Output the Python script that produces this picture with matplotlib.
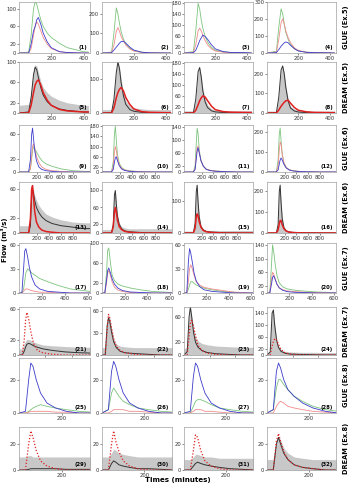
import matplotlib
matplotlib.use('Agg')
import matplotlib.pyplot as plt
from matplotlib.lines import Line2D

W, H = 354, 486

# time knots (minutes) for each event
t5 = [0, 60, 75, 90, 100, 110, 120, 135, 150, 175, 200, 250, 300, 400, 430]
t6 = [-100, 60, 90, 110, 125, 140, 160, 190, 230, 280, 350, 450, 600, 800, 1000, 1080]
t7 = [0, 25, 40, 50, 60, 75, 90, 110, 140, 180, 250, 350, 450, 620]
t8 = [0, 30, 45, 55, 65, 80, 100, 130, 170, 220, 280, 340]

# GLUE (Ex.5): green / pink / blue per panel
glue5_green = [[0, 2, 40, 100, 115, 110, 95, 75, 60, 45, 35, 22, 12, 3, 2],
               [0, 5, 100, 230, 200, 150, 110, 70, 45, 25, 12, 4, 1, 0, 0],
               [0, 5, 80, 180, 160, 120, 90, 60, 40, 20, 10, 4, 2, 1, 0],
               [0, 10, 150, 260, 230, 170, 120, 80, 50, 25, 12, 5, 2, 1, 0]]
glue5_pink = [[0, 0, 10, 40, 60, 70, 65, 50, 35, 20, 10, 3, 1, 0, 0],
              [0, 2, 40, 110, 130, 110, 85, 60, 40, 20, 10, 3, 1, 0, 0],
              [0, 2, 30, 80, 90, 80, 65, 45, 30, 15, 7, 3, 1, 0, 0],
              [0, 5, 80, 180, 200, 170, 130, 90, 60, 30, 15, 5, 2, 1, 0]]
glue5_blue = [[0, 0, 20, 50, 60, 75, 80, 65, 45, 25, 12, 3, 1, 0, 0],
              [0, 1, 15, 30, 40, 50, 58, 60, 50, 30, 15, 4, 1, 0, 0],
              [0, 1, 10, 30, 45, 55, 65, 60, 50, 30, 15, 5, 2, 1, 0],
              [0, 2, 20, 40, 50, 60, 65, 60, 45, 25, 12, 4, 2, 1, 0]]

# DREAM (Ex.5): simulated / band top / observed
dream5_sim = [[0, 2, 30, 75, 90, 85, 70, 50, 35, 22, 15, 8, 5, 2, 2],
              [0, 1, 40, 120, 150, 130, 90, 50, 25, 10, 5, 2, 1, 0, 0],
              [0, 1, 50, 150, 165, 130, 80, 40, 20, 8, 4, 2, 1, 0, 0],
              [0, 2, 80, 220, 240, 200, 130, 60, 25, 10, 5, 2, 1, 0, 0]]
dream5_band = [[15, 17, 40, 85, 95, 92, 80, 62, 50, 40, 33, 25, 20, 15, 15],
               [10, 10, 45, 125, 155, 135, 100, 60, 35, 20, 15, 12, 10, 10, 10],
               [8, 8, 50, 150, 165, 135, 90, 50, 30, 15, 10, 8, 8, 8, 8],
               [10, 10, 80, 220, 240, 205, 140, 70, 35, 20, 15, 12, 10, 10, 10]]
dream5_obs = [[0, 0, 15, 40, 55, 62, 65, 55, 40, 25, 15, 7, 4, 2, 2],
              [0, 0, 15, 45, 60, 70, 75, 65, 45, 25, 12, 4, 2, 1, 1],
              [0, 0, 10, 30, 45, 55, 62, 58, 45, 25, 12, 5, 3, 2, 2],
              [0, 0, 15, 35, 45, 55, 62, 65, 50, 28, 14, 6, 3, 2, 2]]

glue6_green = [[0, 0, 5, 20, 35, 40, 38, 32, 25, 18, 13, 9, 5, 2, 1, 1],
               [0, 0, 40, 150, 180, 130, 70, 35, 18, 9, 5, 3, 1, 0, 0, 0],
               [0, 0, 20, 90, 135, 120, 70, 35, 18, 9, 5, 3, 1, 0, 0, 0],
               [0, 0, 60, 190, 220, 160, 90, 45, 22, 11, 6, 3, 1, 0, 0, 0]]
glue6_pink = [[0, 0, 5, 25, 40, 45, 38, 25, 15, 8, 4, 2, 1, 0, 0, 0],
              [0, 0, 20, 80, 100, 85, 55, 30, 15, 8, 4, 2, 1, 0, 0, 0],
              [0, 0, 10, 50, 75, 80, 60, 35, 18, 9, 5, 3, 1, 0, 0, 0],
              [0, 0, 30, 110, 150, 140, 90, 45, 22, 11, 6, 3, 1, 0, 0, 0]]
glue6_blue = [[0, 0, 20, 60, 70, 55, 35, 18, 8, 4, 2, 1, 0, 0, 0, 0],
              [0, 0, 10, 40, 55, 60, 45, 25, 12, 6, 3, 1, 0, 0, 0, 0],
              [0, 0, 8, 40, 65, 75, 60, 35, 18, 8, 4, 2, 1, 0, 0, 0],
              [0, 0, 10, 40, 60, 70, 60, 38, 20, 10, 5, 2, 1, 0, 0, 0]]

dream6_sim = [[0, 0, 10, 50, 60, 55, 45, 35, 28, 22, 17, 13, 10, 8, 6, 6],
              [0, 0, 20, 90, 100, 70, 40, 20, 10, 5, 3, 2, 1, 0, 0, 0],
              [0, 0, 30, 130, 150, 100, 50, 20, 10, 5, 3, 2, 1, 0, 0, 0],
              [0, 0, 40, 200, 230, 150, 70, 25, 10, 5, 3, 2, 1, 0, 0, 0]]
dream6_band = [[10, 10, 15, 55, 62, 60, 52, 45, 38, 32, 26, 22, 18, 15, 14, 14],
               [8, 8, 25, 95, 100, 75, 45, 25, 15, 12, 10, 10, 10, 10, 10, 10],
               [6, 6, 30, 130, 150, 100, 55, 25, 12, 8, 8, 8, 8, 8, 8, 8],
               [4, 4, 40, 200, 230, 150, 75, 30, 12, 6, 6, 6, 6, 6, 6, 6]]
dream6_obs = [[0, 0, 20, 60, 65, 50, 30, 15, 8, 4, 2, 1, 0, 0, 0, 0],
              [0, 0, 15, 50, 60, 50, 30, 15, 8, 4, 2, 1, 0, 0, 0, 0],
              [0, 0, 15, 50, 60, 55, 35, 18, 8, 4, 2, 1, 0, 0, 0, 0],
              [0, 0, 15, 45, 60, 60, 40, 20, 9, 4, 2, 1, 0, 0, 0, 0]]

glue7_green = [[0, 0, 5, 15, 25, 30, 28, 25, 22, 18, 14, 9, 5, 2],
               [0, 0, 40, 85, 90, 60, 35, 25, 18, 14, 10, 6, 3, 1],
               [0, 0, 5, 10, 14, 14, 12, 10, 8, 6, 4, 2, 1, 0],
               [0, 0, 80, 140, 120, 80, 50, 30, 18, 12, 8, 5, 3, 1]]
glue7_pink = [[0, 0, 2, 4, 5, 5, 4, 3, 2, 1, 1, 0, 0, 0],
              [0, 0, 20, 40, 45, 35, 22, 12, 6, 3, 1, 0, 0, 0],
              [0, 0, 15, 30, 35, 30, 22, 14, 10, 7, 5, 3, 1, 0],
              [0, 0, 40, 60, 55, 40, 25, 15, 10, 6, 4, 2, 1, 0]]
glue7_blue = [[0, 0, 30, 52, 55, 45, 32, 20, 10, 5, 2, 1, 0, 0],
              [0, 0, 25, 45, 50, 40, 28, 18, 10, 5, 2, 1, 0, 0],
              [0, 0, 40, 55, 50, 38, 25, 15, 8, 4, 2, 1, 0, 0],
              [0, 0, 25, 45, 50, 38, 25, 15, 8, 4, 2, 1, 0, 0]]

dream7_sim = [[0, 0, 5, 10, 14, 15, 14, 12, 10, 8, 6, 4, 3, 2],
              [0, 0, 40, 50, 45, 30, 18, 10, 5, 3, 2, 1, 0, 0],
              [0, 5, 60, 75, 60, 35, 20, 12, 7, 4, 2, 1, 0, 0],
              [0, 10, 140, 150, 100, 50, 25, 12, 6, 3, 2, 1, 0, 0]]
dream7_band = [[8, 8, 15, 18, 20, 20, 19, 17, 15, 13, 12, 11, 10, 10],
               [10, 10, 45, 55, 50, 35, 22, 15, 12, 11, 10, 10, 10, 10],
               [10, 12, 60, 75, 62, 40, 28, 22, 18, 16, 14, 13, 12, 12],
               [8, 12, 140, 150, 105, 55, 30, 18, 12, 10, 9, 9, 8, 8]]
dream7_obs = [[0, 0, 20, 45, 55, 45, 30, 15, 6, 3, 1, 0, 0, 0],
              [0, 0, 35, 55, 50, 35, 22, 12, 6, 3, 1, 0, 0, 0],
              [0, 0, 30, 50, 55, 45, 30, 15, 7, 3, 1, 0, 0, 0],
              [0, 0, 30, 45, 55, 50, 35, 18, 8, 3, 1, 0, 0, 0]]

glue8_green = [[0, 0, 1, 2, 3, 4, 5, 4, 3, 2, 1, 0.5],
               [0, 2, 12, 15, 13, 10, 7, 5, 3, 2, 1, 0.5],
               [0, 0, 4, 7, 8, 8, 7, 5, 3, 2, 1, 0.5],
               [0, 2, 15, 20, 20, 17, 14, 10, 7, 4, 2, 1]]
glue8_pink = [[0, 0, 0.5, 1, 1, 1, 1, 1, 0.5, 0.5, 0, 0],
              [0, 0, 1, 2, 2, 2, 2, 1, 1, 0.5, 0, 0],
              [0, 0, 1, 2, 2, 2, 1, 1, 0.5, 0, 0, 0],
              [0, 0, 4, 6, 7, 6, 4, 3, 2, 1, 0.5, 0]]
glue8_blue = [[0, 1, 20, 30, 28, 20, 12, 6, 3, 1, 0, 0],
              [0, 2, 25, 31, 28, 20, 12, 6, 3, 1, 0, 0],
              [0, 1, 22, 30, 28, 20, 12, 6, 3, 1, 0, 0],
              [0, 2, 25, 30, 27, 20, 14, 10, 6, 3, 1, 0]]

dream8_sim = [[0, 0, 0.5, 1, 1, 1, 1, 1, 1, 0.5, 0.5, 0.5],
              [0, 0, 5, 7, 6, 4, 3, 2, 1, 1, 0.5, 0],
              [0, 0, 3, 5, 6, 5, 4, 3, 2, 1, 0.5, 0],
              [0, 0, 20, 25, 20, 13, 8, 4, 2, 1, 0, 0]]
dream8_band = [[10, 10, 11, 11, 10, 10, 10, 10, 10, 10, 10, 10],
               [10, 10, 13, 16, 15, 13, 12, 11, 10, 10, 10, 10],
               [8, 8, 10, 12, 12, 11, 10, 10, 9, 9, 9, 9],
               [8, 8, 22, 26, 23, 17, 13, 10, 9, 8, 8, 8]]
dream8_obs = [[0, 0, 20, 30, 25, 15, 7, 3, 1, 0, 0, 0],
              [0, 0, 20, 30, 22, 14, 7, 3, 1, 0, 0, 0],
              [0, 0, 15, 27, 25, 15, 7, 3, 1, 0, 0, 0],
              [0, 0, 22, 28, 22, 14, 8, 4, 2, 1, 0, 0]]

row_labels = ['GLUE (Ex.5)', 'DREAM (Ex.5)', 'GLUE (Ex.6)', 'DREAM (Ex.6)',
              'GLUE (Ex.7)', 'DREAM (Ex.7)', 'GLUE (Ex.8)', 'DREAM (Ex.8)']

# y limits and ticks per panel (row by row)
ylims = [[115, 260, 185, 300], [100, 150, 185, 260],
         [75, 185, 145, 235], [70, 120, 160, 245],
         [62, 100, 62, 145], [62, 65, 75, 160],
         [33, 33, 33, 33], [33, 33, 33, 33]]
yticks = [[[0, 20, 60, 100], [0, 100, 200], [0, 20, 60, 100, 140, 180], [0, 100, 200, 300]],
          [[0, 20, 60, 100], [0, 100], [0, 20, 60, 100, 140, 180], [0, 100, 200]],
          [[0, 20, 60], [0, 20, 60, 100, 140, 180], [0, 20, 60, 100, 140], [0, 100, 200]],
          [[0, 20, 60], [0, 20, 60, 100], [0, 100], [0, 100, 200]],
          [[0, 30, 60], [0, 20, 60, 100], [0, 30, 60], [0, 20, 60, 100, 140]],
          [[0, 20, 60], [0, 30, 60], [0, 20, 60], [0, 20, 60, 100, 140]],
          [[0, 20]] * 4, [[0, 20]] * 4]

# panel geometry in pixels
col_left = [19, 102, 184, 267]
col_w = [71, 70, 69, 69]
row_top = [2, 62, 125, 182, 243, 307, 358, 427]
row_bot = [53, 113, 172, 233, 293, 355, 413, 470]

GREEN = '#7cc47c'
PINK = '#f08a8a'
BLUE = '#3c3ccc'
BAND = '#c8c8c8'
RED = '#e02020'

fig = plt.figure(figsize=(W / 100, H / 100), dpi=100)

events = [(t5, (0, 440), [200, 400]),
          (t6, (-100, 1080), [200, 400, 600, 800]),
          (t7, (0, 620), [200, 400, 600]),
          (t8, (0, 330), [200])]
glue_sets = [(glue5_green, glue5_pink, glue5_blue), (glue6_green, glue6_pink, glue6_blue),
             (glue7_green, glue7_pink, glue7_blue), (glue8_green, glue8_pink, glue8_blue)]
dream_sets = [(dream5_sim, dream5_band, dream5_obs), (dream6_sim, dream6_band, dream6_obs),
              (dream7_sim, dream7_band, dream7_obs), (dream8_sim, dream8_band, dream8_obs)]

n = 1
for r in range(8):
    ev = r // 2
    t, xl, xt = events[ev]
    if r == 5:
        xl, xt = (0, 540), [200, 400]
    for c in range(4):
        ax = fig.add_axes([col_left[c] / W, 1 - row_bot[r] / H,
                           col_w[c] / W, (row_bot[r] - row_top[r]) / H])
        if r % 2 == 0:
            g, p, b = glue_sets[ev]
            ax.plot(t, g[c], color=GREEN, lw=0.6)
            ax.plot(t, p[c], color=PINK, lw=0.6)
            ax.plot(t, b[c], color=BLUE, lw=0.6)
        else:
            s, band, o = dream_sets[ev]
            ax.fill_between(t, 0, band[c], color=BAND, lw=0)
            ax.plot(t, s[c], color='#333333', lw=0.7)
            if ev < 2:
                ax.plot(t, o[c], color=RED, lw=1.1)
            else:
                ax.plot(t, o[c], color=RED, lw=0.9, ls=(0, (1, 1.5)))
        ax.set_xlim(*xl)
        ax.set_ylim(0, ylims[r][c])
        ax.set_xticks(xt)
        ax.set_yticks(yticks[r][c])
        ax.tick_params(labelsize=3.8, length=1.2, width=0.4, pad=0.8, colors='#333333')
        for sp in ax.spines.values():
            sp.set_color('#a0a0a0')
            sp.set_linewidth(0.5)
        ax.text(0.96, 0.06, '(%d)' % n, transform=ax.transAxes, ha='right', va='bottom',
                fontsize=3.8, fontweight='bold')
        n += 1
    yc = 1 - (row_top[r] + row_bot[r]) / 2 / H
    fig.text(346 / W, yc, row_labels[r], rotation=90, ha='center', va='center',
             fontsize=4.8, fontweight='bold')

fig.text(5 / W, 1 - 240 / H, 'Flow (m³/s)', rotation=90, ha='center', va='center',
         fontsize=5, fontweight='bold')
fig.text(178 / W, 1 - 479.5 / H, 'Times (minutes)', ha='center', va='center',
         fontsize=5.1, fontweight='bold')

h1 = [Line2D([], [], color=BLUE, lw=0.8), Line2D([], [], color=GREEN, lw=0.8),
      Line2D([], [], color=PINK, lw=0.8)]
fig.legend(h1, ['Observed', 'Maximum', 'Minimum'], ncol=3, loc='upper left',
           bbox_to_anchor=(10 / W, 1 - 482.5 / H), fontsize=5.5, frameon=False,
           handlelength=2, columnspacing=1.2, borderpad=0, handletextpad=0.4)
h2 = [Line2D([], [], color=RED, ls=(0, (1, 1.5)), lw=1),
      Line2D([], [], color=BAND, lw=2), Line2D([], [], color='#333333', lw=0.8)]
fig.legend(h2, ['Observed', 'Maximum/Minimum', 'Simulated'], ncol=3, loc='upper left',
           bbox_to_anchor=(200 / W, 1 - 482.5 / H), fontsize=5.5, frameon=False,
           handlelength=2, columnspacing=1.2, borderpad=0, handletextpad=0.4)

fig.savefig('out.png', dpi=100)
